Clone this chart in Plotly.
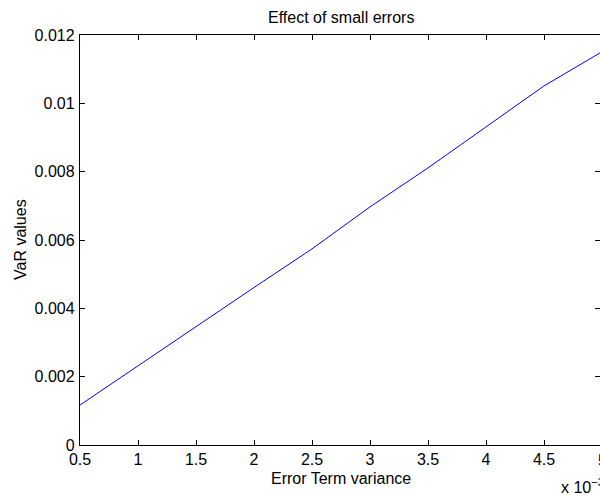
import plotly.graph_objects as go

# Data (x in units of 1e-3)
error_variance = [0.5, 1.0, 1.5, 2.0, 2.5, 3.0, 3.5, 4.0, 4.5, 5.0]
var_values = [0.00117, 0.00232, 0.00347, 0.00461, 0.00574, 0.00697, 0.00811, 0.00931, 0.01051, 0.01151]

x_tickvals = [0.5, 1, 1.5, 2, 2.5, 3, 3.5, 4, 4.5, 5]
x_ticktext = ["0.5", "1", "1.5", "2", "2.5", "3", "3.5", "4", "4.5", "5"]
y_tickvals = [0, 0.002, 0.004, 0.006, 0.008, 0.01, 0.012]
y_ticktext = ["0", "0.002", "0.004", "0.006", "0.008", "0.01", "0.012"]

FONT = "Liberation Sans, Arial, Helvetica, sans-serif"
FS = 16

fig = go.Figure()
fig.add_trace(go.Scatter(x=error_variance, y=var_values, mode="lines",
                         line=dict(color="#0000ff", width=1), showlegend=False,
                         cliponaxis=True))

W, H = 600, 495
L, R, T, B = 80, 0, 35, 50
plot_w = W - L - R
# in the reference, x=5 lies 2px beyond the right edge of the image
x_right = 0.5 + 4.5 * plot_w / (plot_w + 2)

axis_common = dict(showgrid=False, zeroline=False, showline=True, linecolor="black",
                   linewidth=1.3, ticks="inside", ticklen=5, tickwidth=1, tickcolor="black",
                   mirror="ticks", tickfont=dict(family=FONT, size=FS, color="black"))

fig.update_xaxes(range=[0.5, x_right], tickvals=x_tickvals, ticktext=x_ticktext,
                 ticklabelstandoff=0, **axis_common)
fig.update_yaxes(range=[0, 0.012], tickvals=y_tickvals, ticktext=y_ticktext,
                 ticklabelstandoff=1, **axis_common)

fig.update_layout(
    width=W, height=H, margin=dict(l=L, r=R, t=T, b=B, pad=0),
    plot_bgcolor="white", paper_bgcolor="white",
    font=dict(family=FONT, size=FS, color="black"),
    annotations=[
        dict(text="Effect of small errors", xref="paper", yref="paper",
             x=(plot_w + 2) / 2 / plot_w, y=1, yshift=18, showarrow=False,
             xanchor="center", yanchor="middle", font=dict(size=FS)),
        dict(text="Error Term variance", xref="paper", yref="paper",
             x=(plot_w + 2) / 2 / plot_w, y=0, yshift=-33, showarrow=False,
             xanchor="center", yanchor="middle", font=dict(size=FS)),
        dict(text="VaR values", xref="paper", yref="paper", x=0, xshift=-60,
             y=0.5, textangle=-90, showarrow=False, xanchor="center",
             yanchor="middle", font=dict(size=FS)),
        dict(text="5", xref="paper", yref="paper", x=1, xshift=2, y=0, yshift=-15,
             showarrow=False, xanchor="center", yanchor="middle", font=dict(size=FS)),
        dict(text="x 10<sup>\u22123</sup>", xref="paper", yref="paper", x=1, xshift=-41,
             y=0, yshift=-41, showarrow=False, xanchor="left", yanchor="middle",
             font=dict(size=FS)),
    ],
)

fig.write_html("out.html")
